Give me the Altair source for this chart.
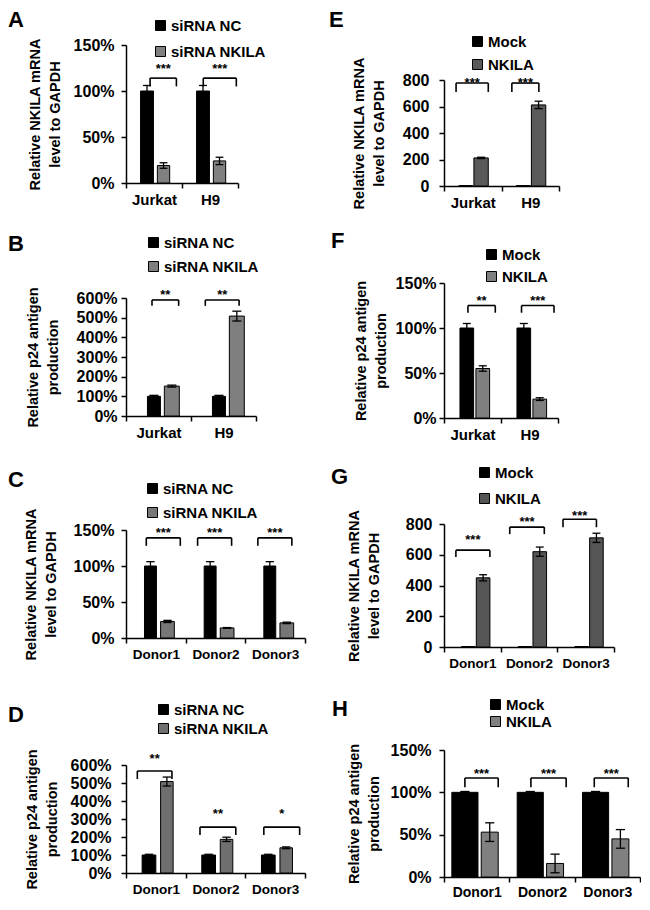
import altair as alt
import pandas as pd

FONT = "Liberation Sans"

# ---------------- data ----------------
A_groups = ["Jurkat", "H9"]
A_series = ["siRNA NC", "siRNA NKILA"]
A_ctrl = [100, 100]
A_ctrl_err = [6, 6]
A_trt = [19, 24]
A_trt_err = [3, 4]
A_stars = ["***", "***"]
A_br_top = [114, 114]
A_br_low = [105, 105]
A_star_y = [127, 127]

B_groups = ["Jurkat", "H9"]
B_series = ["siRNA NC", "siRNA NKILA"]
B_ctrl = [100, 100]
B_ctrl_err = [5, 5]
B_trt = [152, 508]
B_trt_err = [5, 25]
B_stars = ["**", "**"]
B_br_top = [590, 590]
B_br_low = [560, 560]
B_star_y = [630, 630]

C_groups = ["Donor1", "Donor2", "Donor3"]
C_series = ["siRNA NC", "siRNA NKILA"]
C_ctrl = [100, 100, 100]
C_ctrl_err = [6, 6, 6]
C_trt = [23, 14, 21]
C_trt_err = [1.5, 0.5, 1]
C_stars = ["***", "***", "***"]
C_br_top = [139, 139, 139]
C_br_low = [128, 128, 128]
C_star_y = [150, 150, 150]

D_groups = ["Donor1", "Donor2", "Donor3"]
D_series = ["siRNA NC", "siRNA NKILA"]
D_ctrl = [100, 100, 100]
D_ctrl_err = [4, 4, 4]
D_trt = [508, 187, 140]
D_trt_err = [25, 12, 5]
D_stars = ["**", "**", "*"]
D_br_top = [567, 255, 255]
D_br_low = [522, 211, 211]
D_star_y = [650, 344, 344]

E_groups = ["Jurkat", "H9"]
E_series = ["Mock", "NKILA"]
E_ctrl = [3, 3]
E_ctrl_err = [0, 0]
E_trt = [212, 612]
E_trt_err = [5, 28]
E_stars = ["***", "***"]
E_br_top = [777, 777]
E_br_low = [710, 710]
E_star_y = [800, 800]

F_groups = ["Jurkat", "H9"]
F_series = ["Mock", "NKILA"]
F_ctrl = [100, 100]
F_ctrl_err = [5, 5]
F_trt = [55, 21]
F_trt_err = [3, 1.5]
F_stars = ["**", "***"]
F_br_top = [125, 125]
F_br_low = [117, 117]
F_star_y = [133, 133]

G_groups = ["Donor1", "Donor2", "Donor3"]
G_series = ["Mock", "NKILA"]
G_ctrl = [3, 3, 3]
G_ctrl_err = [0, 0, 0]
G_trt = [450, 620, 710]
G_trt_err = [20, 30, 30]
G_stars = ["***", "***", "***"]
G_br_top = [630, 780, 831]
G_br_low = [585, 734, 779]
G_star_y = [714, 831, 870]

H_groups = ["Donor1", "Donor2", "Donor3"]
H_series = ["Mock", "NKILA"]
H_ctrl = [100, 100, 100]
H_ctrl_err = [1, 1, 1]
H_trt = [53, 16, 45]
H_trt_err = [11, 11, 11]
H_stars = ["***", "***", "***"]
H_br_top = [117, 117, 117]
H_br_low = [106, 106, 106]
H_star_y = [125, 125, 125]

# ---------------- layout / style ----------------
T_MRNA = ["Relative  NKILA mRNA", "level  to GAPDH"]
T_P24 = ["Relative  p24 antigen", "production"]

LAYOUT = {
    "A": dict(w=112, h=138, ymax=150, ystep=50, pct=True, gray="#808080",
              bar1=(-0.24, -0.01), bar2=(0.06, 0.28), br=[(-0.07, 0.40), (-0.12, 0.47)],
              leg=(27, -27), rowpad=10, yt=T_MRNA, tx=-84, lx=-118, ly=-18, lp=7, xf=15, xp=4),
    "B": dict(w=130, h=118, ymax=600, ystep=100, pct=True, gray="#7f7f7f",
              bar1=(-0.17, 0.03), bar2=(0.09, 0.32), br=[(-0.10, 0.31), (-0.28, 0.24)],
              leg=(20, -63), rowpad=8, yt=T_P24, tx=-86, lx=-118, ly=-47, lp=4, xf=15, xp=4),
    "C": dict(w=179, h=108, ymax=150, ystep=50, pct=True, gray="#777777",
              bar1=(-0.19, 0.01), bar2=(0.08, 0.31), br=[(-0.16, 0.41), (-0.30, 0.27), (-0.29, 0.28)],
              leg=(19, -49), rowpad=8, yt=T_MRNA, tx=-88, lx=-118, ly=-43, lp=7, xf=13.5, xp=4),
    "D": dict(w=179, h=108, ymax=600, ystep=100, pct=True, gray="#6f6f6f",
              bar1=(-0.23, 0.0), bar2=(0.08, 0.29), br=[(-0.31, 0.27), (-0.26, 0.34), (-0.19, 0.41)],
              leg=(30, -63), rowpad=3, yt=T_P24, tx=-87, lx=-118, ly=-43, lp=10, xf=13.5, xp=4),
    "E": dict(w=115, h=106, ymax=800, ystep=200, pct=False, gray="#5a5a5a",
              bar1=(-0.24, 0.0), bar2=(0.02, 0.27), br=[(-0.29, 0.27), (-0.32, 0.15)],
              leg=(26, -46), rowpad=7, yt=T_MRNA, tx=-78, lx=-115, ly=-53, lp=10, xf=15, xp=4),
    "F": dict(w=114, h=135, ymax=150, ystep=50, pct=True, gray="#7f7f7f",
              bar1=(-0.22, 0.02), bar2=(0.06, 0.30), br=[(-0.08, 0.40), (-0.14, 0.43)],
              leg=(40, -36), rowpad=6, yt=T_P24, tx=-76, lx=-113, ly=-35, lp=3, xf=15, xp=4),
    "G": dict(w=170, h=123, ymax=800, ystep=200, pct=False, gray="#555555",
              bar1=(-0.19, 0.05), bar2=(0.07, 0.31), br=[(-0.29, 0.31), (-0.34, 0.27), (-0.40, 0.19)],
              leg=(33, -59), rowpad=10, yt=T_MRNA, tx=-83, lx=-113, ly=-40, lp=7, xf=13.5, xp=4),
    "H": dict(w=196, h=127, ymax=150, ystep=50, pct=True, gray="#808080",
              bar1=(-0.38, 0.02), bar2=(0.07, 0.33), br=[(-0.18, 0.33), (-0.17, 0.37), (-0.20, 0.32)],
              leg=(44, -53), rowpad=1, yt=T_P24, tx=-83, lx=-112, ly=-34, lp=8, xf=14, xp=3),
}
CAP = 0.07


def panel(key, groups, series, ctrl, ctrl_err, trt, trt_err, stars, br_top, br_low, star_y):
    L = LAYOUT[key]
    n = len(groups)
    bars, errs, caps, brk, legs, txt = [], [], [], [], [], []
    for i in range(n):
        for s, vals, ev, (a, b) in ((series[0], ctrl, ctrl_err, L["bar1"]),
                                    (series[1], trt, trt_err, L["bar2"])):
            x0, x1 = i + a, i + b
            cx = (x0 + x1) / 2
            v, e = vals[i], ev[i]
            bars.append(dict(series=s, x0=x0, x1=x1, val=v, base=0))
            if e > 0:
                errs.append(dict(cx=cx, lo=v - e, hi=v + e))
                for yy in (v - e, v + e):
                    caps.append(dict(c0=cx - CAP, c1=cx + CAP, cy=yy))
        bl, brr = i + L["br"][i][0], i + L["br"][i][1]
        brk.append(dict(bl=bl, br=brr, top=br_top[i]))
        for xx in (bl, brr):
            legs.append(dict(bx=xx, top=br_top[i], low=br_low[i]))
        txt.append(dict(bc=(bl + brr) / 2, sy=star_y[i], stars=stars[i]))

    xs = alt.Scale(domain=[-0.5, n - 0.5], nice=False, zero=False)
    ys = alt.Scale(domain=[0, L["ymax"]], nice=False)
    # label of each group sits at its right boundary tick, shifted back half a group
    arr = "[''," + ",".join("'%s'" % g for g in groups) + "]"
    xaxis = alt.Axis(values=[i - 0.5 for i in range(n + 1)],
                     labelExpr=arr + "[round(datum.value + 0.5)]",
                     labelOffset=-L["w"] / n / 2, labelFlush=False, labelOverlap=False,
                     labelBound=False, title=None, grid=False, tickSize=5, tickWidth=1.5,
                     domainWidth=1.5, labelFontSize=L["xf"], labelFontWeight="bold",
                     labelPadding=L["xp"], labelAlign="center")
    yvals = list(range(0, L["ymax"] + 1, L["ystep"]))
    yargs = dict(values=yvals, title=L["yt"], grid=False, tickSize=5, tickWidth=1.5,
                 domainWidth=1.5, labelFontSize=16, labelFontWeight="bold",
                 labelPadding=L["lp"], titleFontSize=14.5, titleFontWeight="bold",
                 titleLineHeight=20, titleX=L["tx"], titleY=L["h"] / 2, titleAngle=270,
                 titleAlign="center", titleBaseline="bottom")
    if L["pct"]:
        yargs["labelExpr"] = "datum.value + '%'"
    yaxis = alt.Axis(**yargs)

    legend = alt.Legend(title=None, orient="none", legendX=L["leg"][0], legendY=L["leg"][1],
                        symbolType="square", symbolSize=100, symbolStrokeColor="black",
                        symbolStrokeWidth=1, labelFontSize=15, labelFontWeight="bold",
                        labelFont=FONT, labelColor="black", rowPadding=L["rowpad"],
                        labelOffset=3, padding=0)

    def X(f):
        return alt.X(f, scale=xs, axis=xaxis)

    def Y(f):
        return alt.Y(f, scale=ys, axis=yaxis, stack=None)

    base_bars = alt.Chart(pd.DataFrame(bars)).mark_bar(stroke="black", strokeWidth=1).encode(
        x=X("x0:Q"), x2="x1:Q", y=Y("val:Q"), y2="base:Q",
        color=alt.Color("series:N", scale=alt.Scale(domain=series, range=["#000000", L["gray"]]),
                        legend=legend),
    )
    err_l = alt.Chart(pd.DataFrame(errs)).mark_rule(color="black", strokeWidth=1.3).encode(
        x=X("cx:Q"), y=Y("lo:Q"), y2="hi:Q")
    cap_l = alt.Chart(pd.DataFrame(caps)).mark_rule(color="black", strokeWidth=1.3).encode(
        x=X("c0:Q"), x2="c1:Q", y=Y("cy:Q"))
    br_l = alt.Chart(pd.DataFrame(brk)).mark_rule(color="black", strokeWidth=1.6).encode(
        x=X("bl:Q"), x2="br:Q", y=Y("top:Q"))
    leg_l = alt.Chart(pd.DataFrame(legs)).mark_rule(color="black", strokeWidth=1.6).encode(
        x=X("bx:Q"), y=Y("top:Q"), y2="low:Q")
    st_l = alt.Chart(pd.DataFrame(txt)).mark_text(
        font=FONT, fontSize=13, fontWeight="bold", color="black", baseline="middle",
        dy=3).encode(x=X("bc:Q"), y=Y("sy:Q"), text="stars:N")
    # panel letter
    let_l = alt.Chart(pd.DataFrame({"t": [key]})).mark_text(
        font=FONT, fontSize=22, fontWeight="bold", color="black", align="left",
        baseline="alphabetic").encode(x=alt.value(L["lx"]), y=alt.value(L["ly"]), text="t:N")

    return alt.layer(base_bars, err_l, cap_l, br_l, leg_l, st_l, let_l).properties(
        width=L["w"], height=L["h"])


pA = panel("A", A_groups, A_series, A_ctrl, A_ctrl_err, A_trt, A_trt_err, A_stars, A_br_top, A_br_low, A_star_y)
pB = panel("B", B_groups, B_series, B_ctrl, B_ctrl_err, B_trt, B_trt_err, B_stars, B_br_top, B_br_low, B_star_y)
pC = panel("C", C_groups, C_series, C_ctrl, C_ctrl_err, C_trt, C_trt_err, C_stars, C_br_top, C_br_low, C_star_y)
pD = panel("D", D_groups, D_series, D_ctrl, D_ctrl_err, D_trt, D_trt_err, D_stars, D_br_top, D_br_low, D_star_y)
pE = panel("E", E_groups, E_series, E_ctrl, E_ctrl_err, E_trt, E_trt_err, E_stars, E_br_top, E_br_low, E_star_y)
pF = panel("F", F_groups, F_series, F_ctrl, F_ctrl_err, F_trt, F_trt_err, F_stars, F_br_top, F_br_low, F_star_y)
pG = panel("G", G_groups, G_series, G_ctrl, G_ctrl_err, G_trt, G_trt_err, G_stars, G_br_top, G_br_low, G_star_y)
pH = panel("H", H_groups, H_series, H_ctrl, H_ctrl_err, H_trt, H_trt_err, H_stars, H_br_top, H_br_low, H_star_y)


def indep(c):
    return c.resolve_scale(color="independent", x="independent", y="independent"
                           ).resolve_legend(color="independent")


def vc(a, b, sp):
    return indep(alt.vconcat(a, b, spacing=sp))


def spacer():
    return alt.Chart(pd.DataFrame({"v": [0]})).mark_rule(opacity=0).encode(
        x=alt.value(0), y=alt.value(0), y2=alt.value(1)).properties(width=1, height=1)


left = vc(spacer(), vc(vc(vc(pA, pB, 26), pC, 29), pD, 39), 0)
right = vc(spacer(), vc(vc(vc(pE, pF, 18), pG, 23), pH, 27), 0)

chart = indep(alt.hconcat(left, right, spacing=23)).properties(padding=0).configure_view(
    stroke=None
).configure_axis(
    domainColor="black", tickColor="black", labelColor="black", titleColor="black",
    labelFont=FONT, titleFont=FONT
)

chart.save("out.html", embed_options={"renderer": "svg", "actions": False})
